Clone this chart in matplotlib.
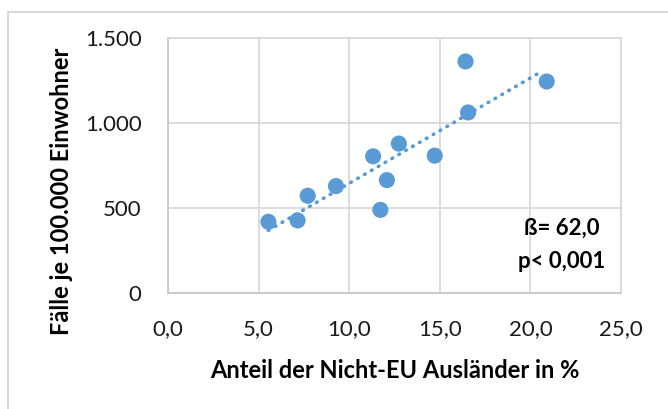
import matplotlib.pyplot as plt
import numpy as np
from matplotlib.patches import Rectangle

plt.rcParams['font.family'] = ['Lato', 'DejaVu Sans']

# Anteil Nicht-EU Ausländer (%) und Fälle je 100.000 Einwohner
anteil = [5.54, 7.15, 7.71, 9.27, 11.32, 11.72, 12.08, 12.74, 14.72, 16.42, 16.56, 20.90]
faelle = [419, 427, 572, 629, 804, 489, 664, 879, 808, 1362, 1062, 1244]
beta = 62.0

x_ticks = [0, 5, 10, 15, 20, 25]
y_ticks = [0, 500, 1000, 1500]
x_labels = ['0,0', '5,0', '10,0', '15,0', '20,0', '25,0']
y_labels = ['0', '500', '1.000', '1.500']

blue = '#5B9BD5'
grid = '#D9D9D9'

fig = plt.figure(figsize=(6.68, 4.09), dpi=100)
fig.patches.append(Rectangle((8 / 668, -0.1), 1.2, 1 - 12 / 409 + 0.1,
                             transform=fig.transFigure, fill=False,
                             edgecolor='#D9D9D9', linewidth=1.5))

ax = fig.add_axes([168 / 668, 1 - 293 / 409, (621 - 168) / 668, (293 - 38) / 409])
ax.set_xlim(0, 25)
ax.set_ylim(0, 1500)
ax.set_xticks(x_ticks)
ax.set_xticklabels(x_labels)
ax.set_yticks(y_ticks)
ax.set_yticklabels(y_labels)
ax.tick_params(length=0, labelsize=16, colors='#1a1a1a')
ax.tick_params(axis='x', pad=19)
ax.tick_params(axis='y', pad=19)
ax.grid(True, color=grid, linewidth=1.3)
ax.set_axisbelow(True)
for s in ax.spines.values():
    s.set_color(grid)
    s.set_linewidth(1.3)
ax.spines['left'].set_color('#C8C8C8')
ax.spines['bottom'].set_color('#C8C8C8')

# lineare Trendlinie mit Steigung beta durch den Schwerpunkt
xs = np.array(anteil)
ys = np.array(faelle)
b0 = ys.mean() - beta * xs.mean()
xl = np.array([xs.min(), xs.max() - 0.3])
ax.plot(xl, b0 + beta * xl, color=blue, linewidth=2.6, linestyle=(0, (0.2, 2.0)),
        dash_capstyle='round', zorder=2)

ax.scatter(anteil, faelle, s=135, color=blue, edgecolors='none', zorder=3)

ax.text(0.869, 0.255, 'ß= 62,0', transform=ax.transAxes, ha='center', va='center',
        fontsize=16, fontweight='bold', color='black')
ax.text(0.869, 0.122, 'p< 0,001', transform=ax.transAxes, ha='center', va='center',
        fontsize=16, fontweight='bold', color='black')

ax.set_xlabel('Anteil der Nicht-EU Ausländer in %', fontsize=17, fontweight='bold')
ax.xaxis.set_label_coords(0.5, (293 - 370) / 255)
ax.xaxis.label.set_verticalalignment('center')
ax.set_ylabel('Fälle je 100.000 Einwohner', fontsize=17, fontweight='bold')
ax.yaxis.set_label_coords((62 - 168) / 453, (293 - 191) / 255)
ax.yaxis.label.set_verticalalignment('center')

fig.savefig('out.png', dpi=100)
